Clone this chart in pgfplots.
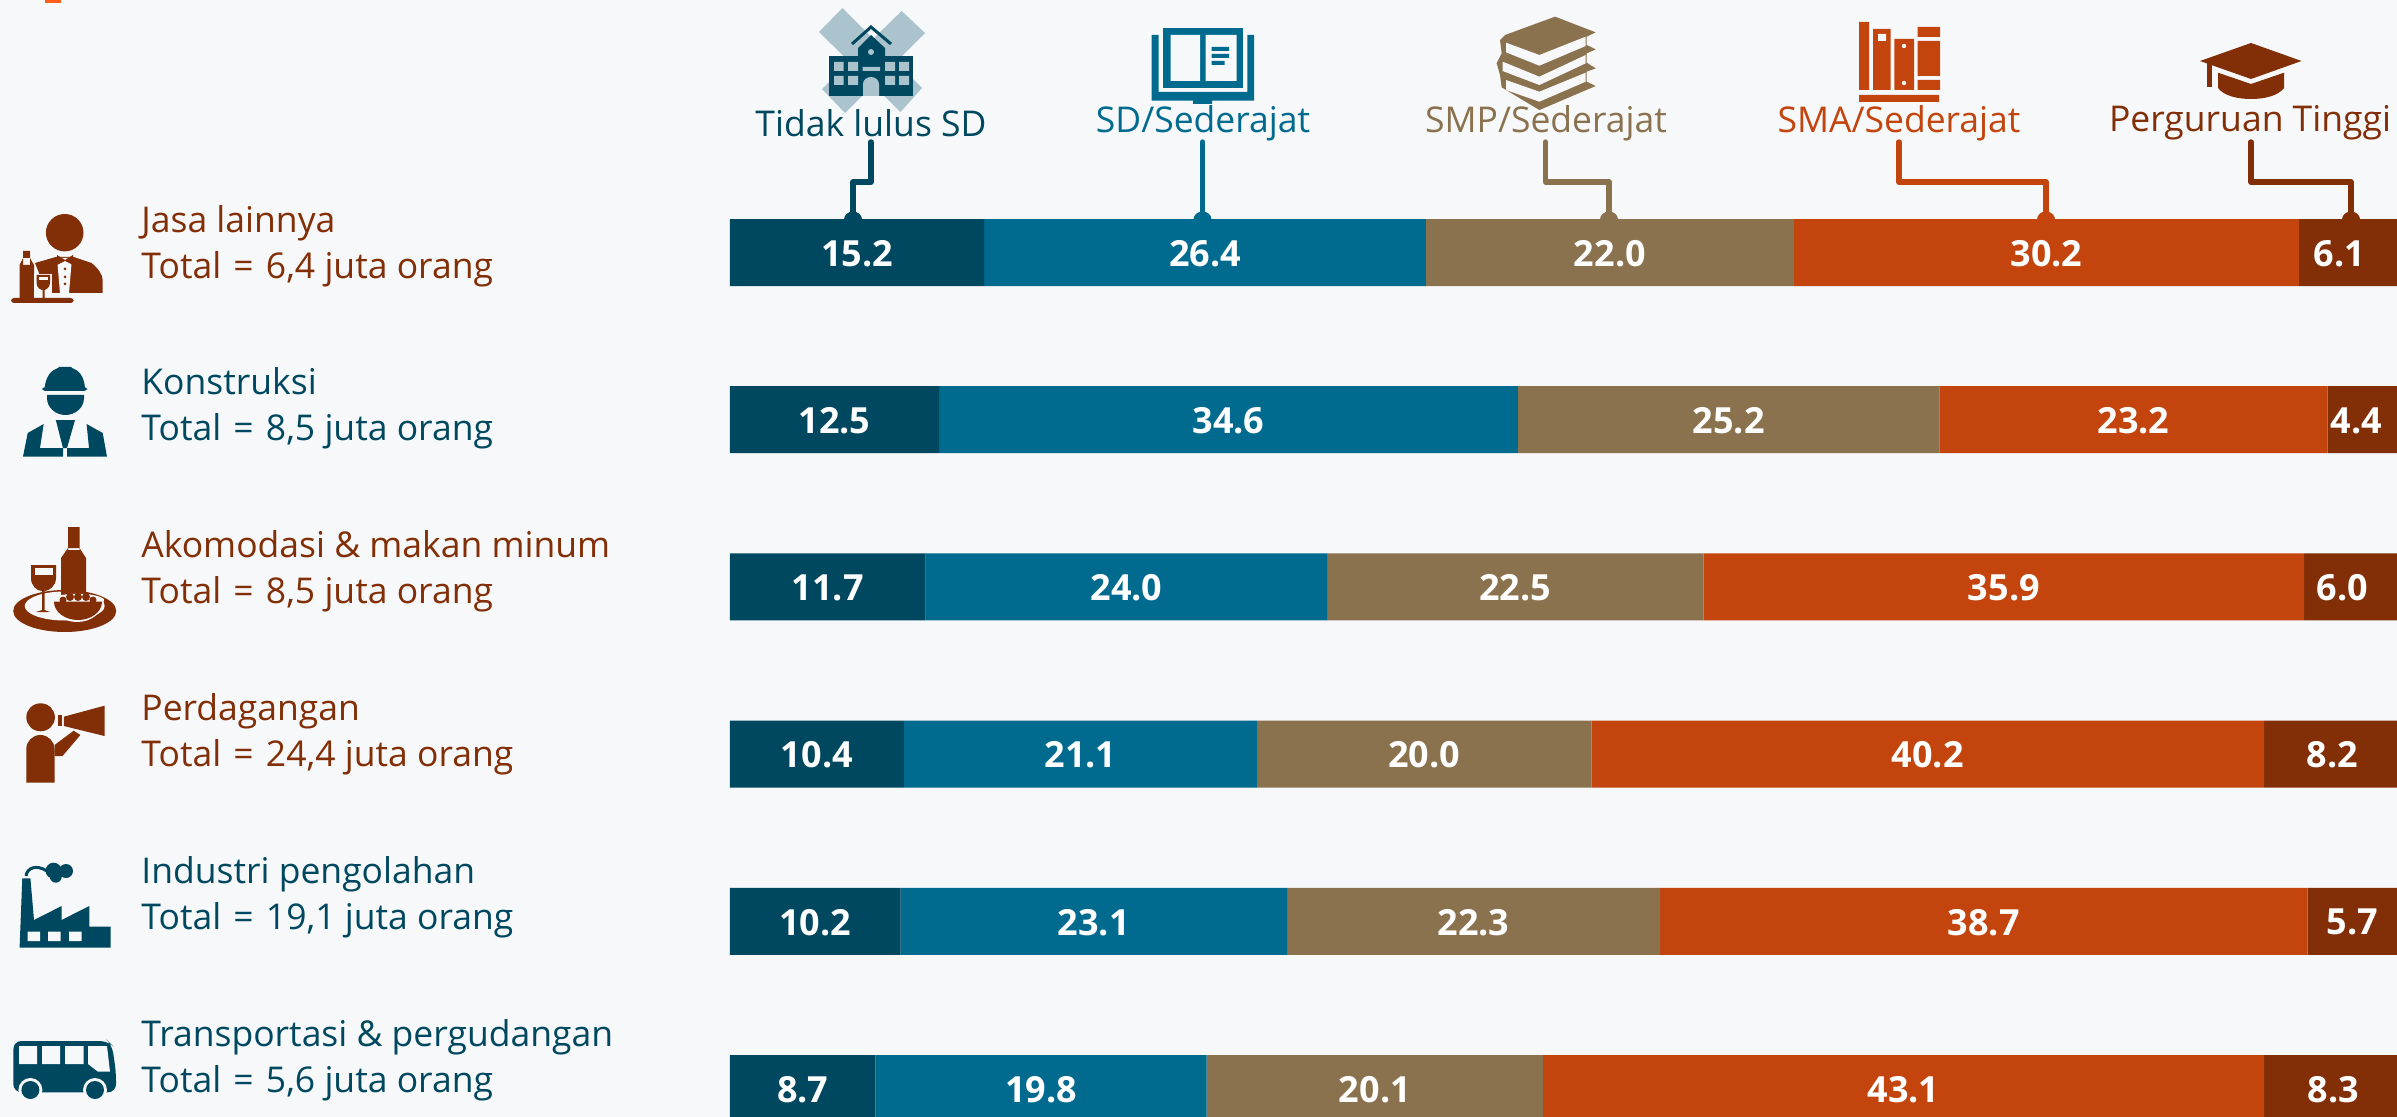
\documentclass[border=0pt]{standalone}
\usepackage{pgfplots}
\pgfplotsset{compat=1.18}
\usepackage{pgfplotstable}
\usepackage{fontspec}
\setmainfont{Open Sans}

\definecolor{bg}{HTML}{F6F8FA}
\definecolor{c1}{HTML}{00485F}
\definecolor{c2}{HTML}{006B8F}
\definecolor{c3}{HTML}{8B724F}
\definecolor{c4}{HTML}{C3450D}
\definecolor{c5}{HTML}{822E06}
\definecolor{xlight}{HTML}{ABC3CD}

% row 0 = top bar
\pgfplotstableread{
row a    b    c    d    e
0   15.2 26.4 22.0 30.2 6.1
1   12.5 34.6 25.2 23.2 4.4
2   11.7 24.0 22.5 35.9 6.0
3   10.4 21.1 20.0 40.2 8.2
4   10.2 23.1 22.3 38.7 5.7
5   8.7  19.8 20.1 43.1 8.3
}\datatable

\newcommand{\lab}[4]{\node[anchor=west,align=left,text=#4,inner sep=0pt,font=\fontsize{17.75}{23}\selectfont] at (141,#1) {#2\\#3};}
\newcommand{\tot}[1]{Total\hspace{1.5pt} = \hspace{1.5pt}#1 juta orang}
\newcommand{\cat}[3]{\node[text=#3,inner sep=0pt,font=\fontsize{17.75}{20}\selectfont] at (#1,123) {#2};}
\newcommand{\dome}[2]{\fill[#2] (#1-9,219.5) arc[start angle=180,end angle=360,x radius=9,y radius=8] -- cycle;}

\begin{document}
\begin{tikzpicture}
\fill[bg] (0,0) rectangle (1198.5pt,-558.5pt);
\useasboundingbox (0,0) rectangle (1198.5pt,-558.5pt);
\begin{axis}[
    at={(0,0)}, anchor=north west,
    scale only axis,
    width=1209.8pt, height=558.5pt,
    hide axis,
    xbar stacked,
    bar width=33.5pt,
    bar shift=0pt,
    xmin=-43.63, xmax=101,
    ymin=-1.510, ymax=5.170,
    y dir=reverse,
    visualization depends on={rawx \as \rawx},
    visualization depends on={rawy \as \rawy},
    nodes near coords={\pgfmathprintnumber[fixed,fixed zerofill,precision=1,assume math mode=true]{\rawx}},
    every node near coord/.append style={anchor=center,text=white,inner sep=0pt,yshift=-0.5pt,
        font=\fontsize{18}{20}\selectfont\bfseries},
]
\addplot[fill=c1,draw=none] table[x=a,y=row] {\datatable};
\addplot[fill=c2,draw=none] table[x=b,y=row] {\datatable};
\addplot[fill=c3,draw=none] table[x=c,y=row] {\datatable};
\addplot[fill=c4,draw=none] table[x=d,y=row] {\datatable};
% the last segment runs off the page, its labels sit left of centre
\addplot[fill=c5,draw=none,every node near coord/.append style={xshift={0.5*{-11,-8,-12,0,-3,0}[int(\rawy)]*1pt}}] table[x=e,y=row] {\datatable};
\end{axis}

\begin{scope}[x=0.5pt,y=-0.5pt]
\fill[orange!60!red!90!white] (45,0) rectangle (61,3);

% row labels
\lab{246}{Jasa lainnya}{\tot{6,4}}{c5}
\lab{408.5}{Konstruksi}{\tot{8,5}}{c1}
\lab{571}{Akomodasi \& makan minum}{\tot{8,5}}{c5}
\lab{734.5}{Perdagangan}{\tot{24,4}}{c5}
\lab{897.5}{Industri pengolahan}{\tot{19,1}}{c1}
\lab{1060.5}{Transportasi \& pergudangan}{\tot{5,6}}{c1}

% school
\fill[xlight] (842.5,8) -- (819,32) -- (900.5,112) -- (922,88) -- cycle;
\fill[xlight] (901.6,11) -- (925,33) -- (845,113) -- (822,89) -- cycle;
\fill[c1] (829,56) rectangle (913,96);
\fill[c1] (858,56) -- (858,48) -- (871,35) -- (885,48) -- (885,56) -- cycle;
\draw[c1,line width=1.5pt] (852,44) -- (871,27) -- (891,44);
\fill[xlight] (871,52) circle (3);
\fill[xlight] (834,62) rectangle (843.6,71) (848,62) rectangle (858,71) (885,62) rectangle (895,71) (899,62) rectangle (909,71)
  (834,76) rectangle (843.6,85) (848,76) rectangle (858,85) (885,76) rectangle (895,85) (899,76) rectangle (909,85)
  (862.6,67) rectangle (880,71);
\fill[xlight] (863,96) -- (863,84) arc[start angle=180,end angle=360,x radius=8,y radius=7] -- (879,96) -- cycle;

% open book
\fill[c2] (1163.4,28) rectangle (1243,88);
\fill[bg] (1170.5,35) rectangle (1200,81) (1205.7,35) rectangle (1236.6,81);
\fill[c2] (1211.6,47) rectangle (1229,51) (1211.6,54) rectangle (1229,58) (1211.6,61) rectangle (1224.6,65);
\fill[c2] (1151.5,35) rectangle (1158.5,92) (1247.4,35) rectangle (1254,92) (1151.5,92) rectangle (1254,100.7) (1193,100) rectangle (1212,104);

% stacked books
\begin{scope}[shift={(1480,0)},x=0.1667pt,y=-0.1667pt]
\fill[c3] (225,50) -- (347,97) -- (320,110) -- (320,135) -- (347,148) -- (320,160) -- (320,188) -- (347,205) -- (320,215) -- (320,245) -- (347,258) -- (178,330) -- (65,262) -- (60,225) -- (50,190) -- (65,160) -- (60,120) -- (75,105) -- cycle;
\fill[bg] (78,128) -- (178,165) -- (317,110) -- (317,138) -- (178,197) -- (78,157) -- cycle;
\fill[bg] (68,185) -- (178,230) -- (317,165) -- (317,190) -- (178,255) -- (68,213) -- cycle;
\fill[bg] (78,240) -- (178,275) -- (317,218) -- (317,245) -- (178,305) -- (78,270) -- cycle;
\end{scope}

% shelf
\fill[c4] (1859,22) rectangle (1869,90) (1873,29) rectangle (1890.6,90) (1894.4,39) rectangle (1914,90)
  (1917.7,27) rectangle (1940,37) (1917.7,41) rectangle (1940,76) (1917.7,80) rectangle (1940,90) (1859,95) rectangle (1939,102);
\fill[bg] (1878,34) rectangle (1886,41) (1904,46) circle (2.2) (1904,83) circle (2.2);

% cap
\fill[c5] (2251,43) -- (2301.5,61) -- (2251,79) -- (2200,61) -- cycle;
\fill[c5] (2218,72.7) -- (2251,84) -- (2284,72.7) -- (2284,88) .. controls (2278,96) and (2264,99) .. (2251,99) .. controls (2238,99) and (2224,96) .. (2218,88) -- cycle;
\fill[c5] (2207,63) rectangle (2211.5,87);

% connectors
\begin{scope}[line width=2.7pt,line cap=round,line join=round]
\draw[c1] (871,142) -- (871,182) -- (853,182) -- (853,216);
\draw[c2] (1202.5,142) -- (1202.5,216);
\draw[c3] (1545.5,142) -- (1545.5,182) -- (1609,182) -- (1609,216);
\draw[c4] (1899,142) -- (1899,182) -- (2046,182) -- (2046,216);
\draw[c5] (2251,142) -- (2251,182) -- (2351,182) -- (2351,216);
\end{scope}
\dome{853}{c1}\dome{1202.5}{c2}\dome{1609}{c3}\dome{2046}{c4}\dome{2351}{c5}

% column captions
\cat{871}{Tidak lulus SD}{c1}
\cat{1203}{SD/Sederajat}{c2}
\cat{1546}{SMP/Sederajat}{c3}
\cat{1899}{SMA/Sederajat}{c4}
\cat{2250}{Perguruan Tinggi}{c5}

% waiter
\fill[c5] (64.7,232.7) ellipse[x radius=18.8,y radius=18.7];
\fill[c5] (35,263) -- (55.8,257) -- (73.7,257) -- (91.5,263) .. controls (98,268) and (102.7,275) .. (102.7,280) -- (102.7,293) -- (47,293) -- cycle;
\fill[bg] (57,258) -- (72,258) -- (69,293) -- (60,293) -- cycle;
\fill[c5] (57,255) -- (65,260) -- (73,255) -- (73,265) -- (65,261) -- (57,265) -- cycle;
\fill[c5] (65,269) circle (1.5) (65,277) circle (1.5) (65,284) circle (1.5);
\fill[c5] (23,251) rectangle (30,265) (19.6,265) -- (23,258) -- (30,258) -- (34,265) -- (34,298) -- (19.6,298) -- cycle;
\fill[bg] (34,274) rectangle (52,298);
\fill[c5] (36.6,275) -- (50,275) -- (50,283) .. controls (50,288) and (45,290) .. (44.5,290) -- (44.5,298) -- (42.5,298) -- (42.5,290) .. controls (41,290) and (36.6,288) .. (36.6,283) -- cycle;
\fill[bg] (38.5,277) rectangle (48,280);
\fill[c5,rounded corners=1.5] (11,298) rectangle (73.7,303);

% worker
\fill[c1] (44.6,388) .. controls (46,375) and (52,370) .. (58,368) -- (59,367) -- (71,367) -- (72,368) .. controls (78,370) and (84,375) .. (85,388) -- cycle;
\fill[c1,rounded corners=1.5] (42.4,387) rectangle (87,391);
\fill[c1] (47,395) -- (84,395) -- (84,398) .. controls (84,408) and (75,415) .. (65.5,415) .. controls (56,415) and (47,408) .. (47,398) -- cycle;
\fill[c1] (23,456.7) -- (27.7,433) -- (43.7,424) -- (40,448) -- (63,448) -- (63,456.7) -- cycle;
\fill[c1] (107,456.7) -- (102.7,433) -- (86.6,424) -- (89,448) -- (67,448) -- (67,456.7) -- cycle;
\fill[c1] (55.8,420) -- (75,420) -- (67,448) -- (63,448) -- cycle;

% tray
\fill[c5] (64.7,611) ellipse[x radius=51.5,y radius=21];
\fill[bg] (64.7,606) ellipse[x radius=40,y radius=14.5];
\fill[c5] (68,527) rectangle (79.5,550) (68,548) -- (79.5,548) -- (86,558) -- (86,596) -- (61,596) -- (61,558) -- cycle;
\fill[c5] (31,565) -- (56,565) -- (56,578) .. controls (56,586) and (49,591) .. (44.5,591) -- (44.5,610) -- (50,612) -- (36,612) -- (42,610) -- (42,591) .. controls (37,591) and (31,586) .. (31,578) -- cycle;
\fill[bg] (35,568) rectangle (52.7,575);
\fill[bg] (51,599) .. controls (60,592) and (95,592) .. (104,599) .. controls (104,612) and (92,622) .. (77,622) .. controls (62,622) and (51,612) .. (51,599) -- cycle;
\fill[c5] (54,601.7) -- (102,601.7) .. controls (102,612) and (91,620) .. (78,620) .. controls (65,620) and (54,612) .. (54,601.7) -- cycle;
\fill[c5] (63,600) circle (3.5) (70,597) circle (4) (78,597) circle (4) (86,597) circle (4) (93,600) circle (3.5);

% megaphone
\fill[c5] (40.6,717.3) ellipse[x radius=14.3,y radius=14];
\fill[c5] (26.3,782.7) -- (26.3,749) arc[start angle=180,end angle=360,x radius=14.1,y radius=14] -- (54.5,782.7) -- cycle;
\fill[c5] (54.5,745) -- (73.7,730.7) -- (80.4,735) -- (62.5,756) -- (54.5,756) -- cycle;
\fill[c5] (63.8,716.7) -- (104.5,705.7) -- (104.5,736) -- (63.8,726) -- cycle;
\fill[c5] (58,715) rectangle (61.6,726);

% factory
\fill[c1] (19.6,947.7) -- (22.3,878.3) -- (30.4,878.3) -- (34,920) -- (61.6,906) -- (61.6,920) -- (89.3,906) -- (89.3,926.7) -- (110.7,926.7) -- (110.7,947.7) -- cycle;
\fill[bg] (27.7,931.7) rectangle (40,941) (48,931.7) rectangle (60.7,941) (69,931.7) rectangle (81.7,941);
\fill[c1] (53.6,870.7) circle (8) (66,871) circle (7) (55.8,876.7) circle (6);
\draw[c1,line width=1.5pt] (26,876) .. controls (27,868) and (36,864) .. (47,871);

% bus
\fill[c1,rounded corners=4] (13.4,1041) -- (108,1041) -- (112,1045) -- (116,1072) -- (116,1092.3) -- (13.4,1092.3) -- cycle;
\fill[bg] (19,1046) rectangle (37,1064) (42,1046) rectangle (60,1064) (65,1046) rectangle (83.5,1064);
\fill[bg] (88,1046) -- (107,1046) -- (110,1071.7) -- (98,1071.7) -- (88,1064) -- cycle;
\fill[bg] (30.4,1090) circle (12) (95,1090) circle (12);
\fill[c1] (30.4,1090) circle (9) (95,1090) circle (9);
\end{scope}
\end{tikzpicture}
\end{document}
